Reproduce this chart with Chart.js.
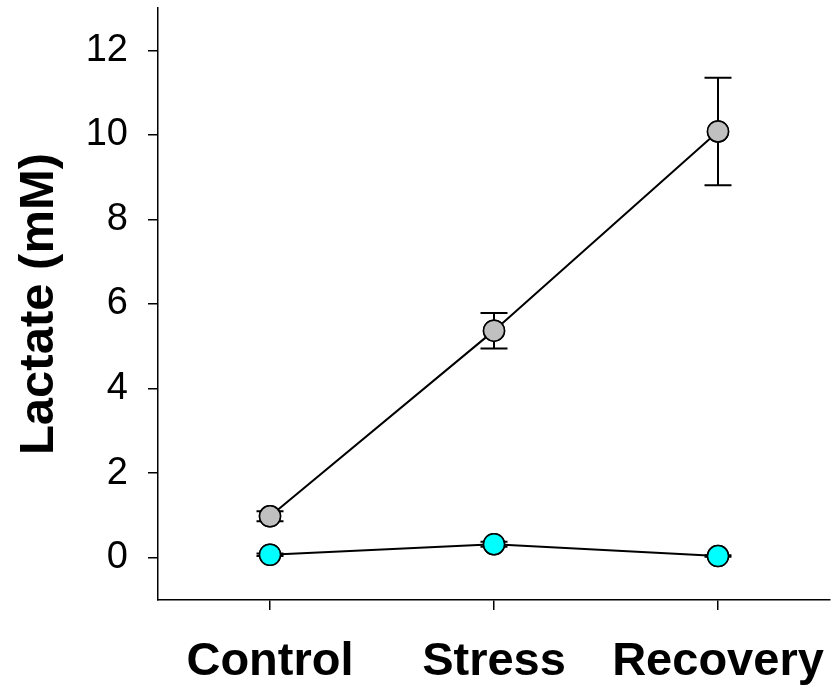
<!DOCTYPE html>
<html>
<head>
<meta charset="utf-8">
<script src="https://cdn.jsdelivr.net/npm/chart.js@4"></script>
<style>
  html, body { margin: 0; padding: 0; background: #ffffff; }
  #wrap { width: 831px; height: 687px; }
</style>
</head>
<body>
<div id="wrap"><canvas id="chart" width="831" height="687"></canvas></div>
<script>
// Lactate across the three conditions, mean ± error
const categories = ['Control', 'Stress', 'Recovery'];
const greyMeans  = [0.98, 5.37, 10.08];
const greyErrors = [0.12, 0.42, 1.27];
const cyanMeans  = [0.07, 0.32, 0.04];
const cyanErrors = [0.03, 0.06, 0.02];
const yTicks = [0, 2, 4, 6, 8, 10, 12];

const FONT = 'Liberation Sans, Arial, sans-serif';

// Vertical error bars with caps; markers are redrawn on top of them
const errorBars = {
  id: 'errorBars',
  afterDatasetsDraw(chart) {
    const ctx = chart.ctx;
    const y = chart.scales.y;
    chart.data.datasets.forEach((ds, di) => {
      const meta = chart.getDatasetMeta(di);
      ctx.save();
      ctx.strokeStyle = '#000';
      ctx.lineWidth = 2;
      meta.data.forEach((pt, i) => {
        const m = ds.data[i], e = ds.errors[i];
        const yTop = y.getPixelForValue(m + e);
        const yBot = y.getPixelForValue(m - e);
        const cap = 13.5;
        ctx.beginPath();
        ctx.moveTo(pt.x, yTop); ctx.lineTo(pt.x, yBot);
        ctx.moveTo(pt.x - cap, yTop); ctx.lineTo(pt.x + cap, yTop);
        ctx.moveTo(pt.x - cap, yBot); ctx.lineTo(pt.x + cap, yBot);
        ctx.stroke();
      });
      ctx.restore();
      meta.data.forEach(pt => pt.draw(ctx, chart.chartArea));
    });
  }
};

new Chart(document.getElementById('chart'), {
  type: 'line',
  data: {
    labels: categories,
    datasets: [
      {
        data: greyMeans, errors: greyErrors,
        borderColor: '#000', borderWidth: 2,
        pointRadius: 10.5, pointHoverRadius: 10.5,
        pointBackgroundColor: '#c0c0c0', pointBorderColor: '#000', pointBorderWidth: 1.5,
        tension: 0, fill: false
      },
      {
        data: cyanMeans, errors: cyanErrors,
        borderColor: '#000', borderWidth: 2,
        pointRadius: 10.5, pointHoverRadius: 10.5,
        pointBackgroundColor: '#00ffff', pointBorderColor: '#000', pointBorderWidth: 1.5,
        tension: 0, fill: false
      }
    ]
  },
  options: {
    responsive: false,
    animation: false,
    events: [],
    layout: { autoPadding: false, padding: { top: 8, right: 1, left: 0, bottom: 0 } },
    plugins: { legend: { display: false }, tooltip: { enabled: false } },
    scales: {
      x: {
        type: 'category',
        offset: true,
        grid: { display: true, drawOnChartArea: false, offset: false, color: '#000', lineWidth: 1.5, tickLength: 10 },
        border: { display: true, color: '#000', width: 1.5 },
        ticks: { color: '#000', padding: 24, font: { family: FONT, size: 47, weight: 'bold' }, maxRotation: 0, autoSkip: false },
        afterFit(axis) {
          axis.height = 87;
          axis.paddingLeft = 0;
          axis.paddingRight = 0;
        }
      },
      y: {
        min: -1, max: 13,
        afterBuildTicks(axis) { axis.ticks = yTicks.map(v => ({ value: v })); },
        grid: { display: true, drawOnChartArea: false, color: '#000', lineWidth: 1.5, tickLength: 10 },
        border: { display: true, color: '#000', width: 1.5 },
        ticks: { color: '#000', padding: 20, font: { family: FONT, size: 38 } },
        title: {
          display: true, text: 'Lactate (mM)', color: '#000',
          font: { family: FONT, size: 49, weight: 'bold' },
          padding: { top: 10, bottom: 0 }
        },
        afterFit(axis) {
          axis.width = 158;
          axis.paddingTop = 0;
          axis.paddingBottom = 0;
        }
      }
    }
  },
  plugins: [errorBars]
});
</script>
</body>
</html>
